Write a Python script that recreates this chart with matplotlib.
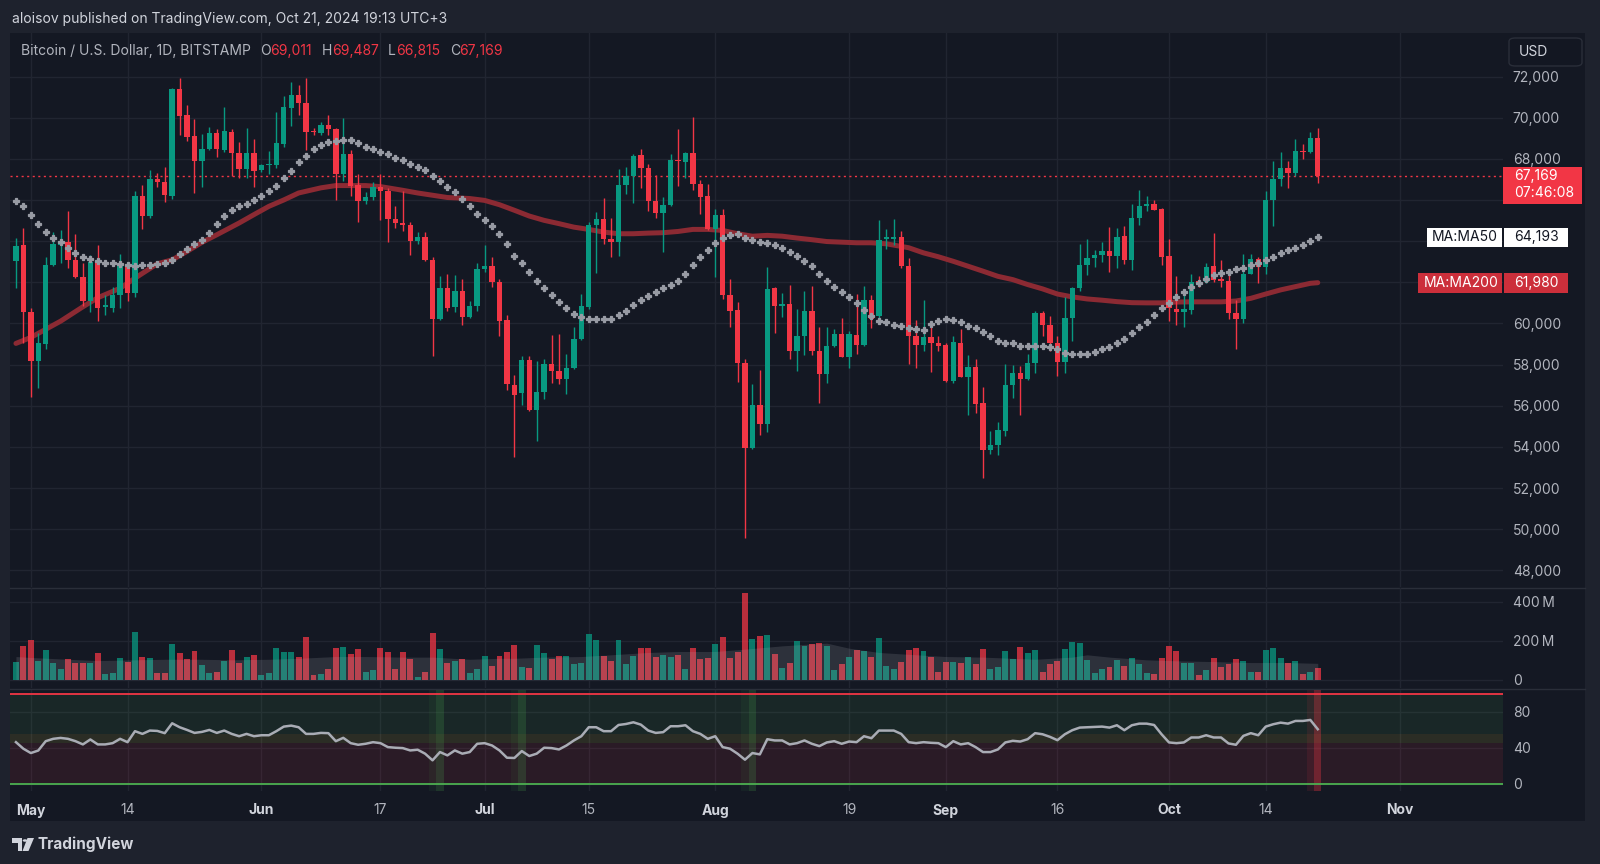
import matplotlib
matplotlib.use("Agg")
import matplotlib.pyplot as plt
from matplotlib.patches import Rectangle, FancyBboxPatch, Polygon, Circle
import numpy as np
import pandas as pd

plt.rcParams['font.family'] = ['Inter', 'DejaVu Sans']

W, H = 1600, 864
BG_OUT = '#1e222d'
BG = '#141823'
GRID = '#212531'
TXT = '#b2b5be'
TXT_HI = '#d1d4dc'
UP = '#089981'
DOWN = '#f23645'

start = pd.Timestamp('2024-04-29')
dates = pd.date_range(start, '2024-10-21', freq='D')

# daily OHLC
opens = [63040, 63790, 60540, 58180, 58990, 62830, 63820, 63950, 63090, 62240,
         61110, 63040, 60810, 60730, 61380, 62900, 61500, 66180, 65200, 67020,
         66860, 66180, 71380, 70110, 69110, 67890, 68490, 69240, 68420, 69300,
         68290, 67510, 68260, 67450, 67700, 67680, 68730, 70490, 71090, 70730,
         69350, 69240, 69630, 69460, 67240, 68210, 66750, 65940, 66150, 66620,
         66460, 65070, 64880, 64800, 64030, 64200, 63090, 60200, 61740, 60780,
         61590, 60290, 60860, 62650, 62810, 62030, 60160, 57010, 56600, 58230,
         55790, 56670, 58020, 57690, 57290, 57850, 59240, 60780, 64760, 65090,
         64110, 63950, 66720, 67170, 68180, 67560, 65940, 65370, 65770, 67950,
         67850, 68260, 66800, 66180, 64600, 65290, 61380, 60650, 58100, 53950,
         56020, 55090, 61710, 60830, 60940, 58670, 59370, 60620, 58670, 57530,
         58880, 59480, 58390, 59430, 58960, 61160, 60340, 64080, 64110, 64210,
         62780, 59370, 58960, 59320, 59070, 58930, 57200, 59070, 57420, 57900,
         56110, 53870, 54080, 54780, 57010, 57580, 57290, 58070, 60500, 59940,
         59070, 58150, 60260, 61720, 62860, 63170, 63330, 63500, 63290, 64230,
         63060, 65120, 65720, 65820, 65560, 63290, 60680, 60570, 60650, 62050,
         62000, 62800, 62150, 62070, 60520, 60210, 62410, 63120, 62760, 66020,
         67020, 67560, 67320, 68370, 68330, 69011]
highs = [64150, 64630, 60730, 59550, 63250, 64420, 64550, 65450, 64360, 62930,
         63330, 63820, 61380, 61790, 63380, 63010, 66420, 66750, 67450, 67320,
         67610, 71460, 71950, 70620, 69950, 69190, 69550, 69460, 70540, 69460,
         68810, 69480, 68980, 67770, 68370, 70280, 71060, 71740, 71590, 71920,
         69510, 69810, 70110, 69510, 70000, 68420, 67270, 66370, 66880, 67240,
         66590, 65690, 66420, 64910, 64420, 64420, 63250, 62310, 62410, 62330,
         62160, 61110, 62940, 63790, 63220, 62160, 60410, 57480, 58420, 58420,
         58180, 58260, 59430, 59480, 58500, 59840, 61430, 64930, 65420, 66110,
         65120, 67500, 67610, 68240, 68500, 67770, 67200, 66150, 68210, 69430,
         68320, 70050, 66990, 66800, 65580, 65550, 62160, 61060, 58260, 57040,
         57740, 62730, 61750, 61460, 61870, 60700, 61590, 61810, 59840, 59810,
         59720, 60260, 59610, 61430, 61840, 61380, 65010, 64600, 65090, 64490,
         63190, 60150, 61160, 59850, 59400, 59040, 59370, 59740, 58470, 58260,
         56930, 54780, 55220, 58020, 57980, 57940, 58520, 60620, 60590, 60340,
         59370, 61290, 61770, 63840, 64080, 63550, 63950, 64680, 64630, 64750,
         65820, 66470, 66210, 66020, 65600, 64100, 62310, 61630, 62410, 62310,
         62960, 64390, 63090, 62550, 61140, 63370, 63370, 63250, 66460, 67890,
         68340, 67890, 68940, 68700, 69320, 69487]
lows = [61710, 59030, 56420, 56880, 58780, 62810, 62930, 62680, 62200, 60850,
        60570, 60130, 60410, 60570, 60730, 61110, 61270, 64590, 65120, 66630,
        65890, 66050, 69140, 68860, 66340, 66620, 68440, 68100, 68330, 67150,
        67070, 67070, 66620, 67350, 67270, 67560, 68590, 69590, 70110, 68420,
        69140, 69140, 69140, 65980, 66910, 66180, 64910, 65820, 65980, 65010,
        63980, 64630, 64470, 63330, 63870, 63050, 58410, 60160, 60620, 60540,
        59920, 60250, 60620, 62490, 61760, 59370, 56760, 53510, 56020, 55740,
        54280, 56310, 57120, 57040, 56550, 57800, 59200, 60700, 62460, 63870,
        63220, 63300, 66310, 65850, 66590, 65450, 65120, 63460, 65700, 66670,
        67070, 66470, 65330, 64520, 62240, 61190, 59840, 57150, 49560, 53900,
        54600, 54720, 59560, 60290, 58290, 57690, 58460, 58460, 56110, 57090,
        58850, 58350, 57850, 58500, 58880, 59760, 60240, 63630, 63790, 62700,
        58030, 57820, 58680, 57660, 58680, 57170, 57090, 57400, 55550, 55630,
        52490, 53680, 53590, 54520, 56360, 55550, 57250, 57610, 59400, 58680,
        57450, 57580, 59160, 61590, 62330, 62750, 62980, 62520, 62680, 62890,
        62600, 64800, 65450, 65500, 62850, 60110, 59920, 59810, 60460, 61790,
        61950, 62030, 61790, 60240, 58780, 60000, 62380, 61980, 62410, 64750,
        66700, 66590, 67150, 67970, 68300, 66815]
closes = [63770, 60570, 58180, 59030, 62850, 63850, 64020, 63090, 62240, 61110,
          63010, 60730, 60910, 61380, 62900, 61500, 66180, 65200, 67020, 66860,
          66240, 71380, 70080, 69070, 67890, 68490, 69240, 68460, 69350, 68260,
          67510, 68290, 67400, 67680, 67760, 68780, 70540, 71090, 70730, 69300,
          69300, 69630, 69460, 67240, 68210, 66700, 65940, 66150, 66620, 66420,
          65070, 64880, 64800, 64030, 64180, 63090, 60200, 61710, 60730, 61590,
          60290, 60860, 62650, 62810, 62030, 60130, 57040, 56500, 58230, 55790,
          56670, 58020, 57690, 57290, 57850, 59240, 60830, 64760, 65090, 64080,
          63950, 66720, 67170, 68150, 67560, 65940, 65370, 65770, 67940, 67900,
          68290, 66800, 66150, 64600, 65290, 61380, 60620, 58100, 53950, 56020,
          55090, 61680, 60830, 60940, 58670, 59370, 60620, 58670, 57530, 58880,
          59480, 58390, 59480, 58960, 61160, 60240, 64070, 64190, 64210, 62780,
          59370, 58960, 59330, 59040, 58910, 57200, 59090, 57420, 57900, 56080,
          53870, 54080, 54810, 57010, 57580, 57290, 58070, 60500, 59940, 59070,
          58150, 60260, 61720, 62860, 63170, 63330, 63500, 63290, 64200, 63090,
          65120, 65720, 65820, 65530, 63250, 60730, 60570, 60680, 62000, 62000,
          62760, 62110, 62070, 60490, 60210, 62410, 63120, 62760, 66020, 67020,
          67560, 67320, 68370, 68330, 68990, 67169]

# MA50 (one cross per day)
ma50 = [65935, 65690, 65285, 64846, 64423, 64146, 63935, 63659, 63447, 63252,
        63138, 63041, 62960, 62927, 62895, 62846, 62797, 62846, 62846, 62895,
        62927, 63089, 63366, 63610, 63854, 64065, 64390, 64830, 65236, 65496,
        65691, 65821, 66016, 66211, 66455, 66699, 67073, 67431, 67854, 68130,
        68455, 68650, 68813, 68862, 68894, 68894, 68780, 68585, 68455, 68325,
        68211, 68016, 67935, 67756, 67610, 67480, 67154, 66911, 66618, 66390,
        66065, 65707, 65333, 65008, 64715, 64358, 63837, 63301, 62927, 62488,
        62081, 61724, 61382, 61057, 60732, 60455, 60293, 60211, 60211, 60211,
        60211, 60407, 60618, 60894, 61155, 61350, 61545, 61707, 61870, 62081,
        62407, 62846, 63252, 63545, 63919, 64146, 64276, 64358, 64146, 64033,
        63951, 63919, 63821, 63659, 63463, 63301, 63057, 62780, 62407, 62081,
        61756, 61512, 61268, 60992, 60667, 60374, 60130, 60049, 59935, 59854,
        59772, 59724, 59691, 59984, 60130, 60211, 60179, 60049, 59886, 59772,
        59561, 59366, 59155, 59073, 59041, 58927, 58911, 58911, 58911, 58878,
        58748, 58585, 58520, 58520, 58520, 58602, 58748, 58862, 59057, 59236,
        59512, 59805, 60081, 60407, 60732, 60976, 61268, 61545, 61789, 61951,
        62146, 62358, 62472, 62520, 62650, 62716, 62846, 62960, 63089, 63252,
        63415, 63545, 63659, 63821, 63984, 64193]

# MA200 sampled every couple of days
ma200_day = [0, 2, 6, 9, 11, 14, 16, 19, 21, 23, 25, 27, 30, 32, 34, 36, 38, 41,
             43, 45, 47, 49, 52, 54, 56, 58, 61, 63, 65, 67, 69, 71, 73, 75, 77,
             79, 81, 83, 85, 87, 89, 91, 93, 95, 97, 99, 101, 103, 105, 107, 109,
             111, 113, 115, 117, 120, 122, 124, 126, 128, 130, 132, 134, 136,
             138, 140, 142, 144, 146, 148, 150, 152, 154, 156, 158, 160, 162,
             164, 166, 168, 170, 172, 174, 175]
ma200_val = [59030, 59320, 60110, 60810, 61250, 61710, 62200, 62900, 63090,
             63500, 63940, 64310, 64880, 65290, 65690, 66000, 66340, 66590,
             66700, 66700, 66700, 66650, 66470, 66340, 66230, 66120, 66070,
             65980, 65770, 65500, 65220, 65010, 64850, 64680, 64570, 64440,
             64360, 64360, 64390, 64410, 64470, 64570, 64570, 64520, 64360,
             64240, 64280, 64240, 64150, 64070, 63980, 63950, 63920, 63920,
             63870, 63680, 63430, 63240, 63020, 62780, 62540, 62290, 62130,
             61890, 61680, 61430, 61290, 61190, 61130, 61060, 61010, 61000,
             61000, 61040, 61050, 61050, 61050, 61090, 61220, 61430, 61630,
             61790, 61950, 61980]

# volume in millions USD
volume = [93, 171, 205, 97, 153, 88, 57, 105, 84, 88, 84, 136, 29, 36, 110, 93,
          243, 116, 110, 33, 33, 183, 136, 105, 145, 76, 33, 38, 97, 153, 84,
          116, 128, 22, 36, 162, 143, 143, 119, 219, 26, 29, 55, 164, 167, 133,
          157, 41, 50, 162, 143, 57, 143, 105, 16, 40, 240, 160, 84, 98, 105,
          33, 57, 122, 71, 122, 140, 179, 67, 62, 179, 136, 105, 122, 122, 81,
          88, 236, 205, 122, 98, 205, 79, 122, 162, 162, 119, 128, 119, 128, 57,
          162, 105, 109, 184, 219, 110, 140, 447, 210, 226, 228, 133, 60, 88,
          200, 174, 184, 188, 171, 50, 79, 117, 153, 148, 116, 215, 71, 57, 91,
          153, 164, 148, 117, 41, 93, 93, 84, 116, 81, 160, 53, 64, 148, 105,
          167, 136, 153, 41, 79, 97, 157, 193, 190, 102, 34, 57, 67, 102, 71,
          110, 81, 33, 29, 110, 171, 148, 84, 84, 24, 50, 110, 66, 81, 105, 97,
          40, 40, 153, 162, 114, 84, 97, 28, 40, 60]
vol_ma_day = [0, 2, 7, 11, 16, 20, 25, 29, 34, 38, 43, 47, 52, 56, 61, 65, 67,
              71, 76, 80, 85, 89, 94, 98, 103, 107, 109, 112, 116, 121, 125,
              130, 137, 142, 144, 147, 152, 156, 161, 166, 171, 175]
vol_ma_val = [119, 114, 105, 98, 102, 105, 105, 102, 105, 110, 119, 119, 116,
              116, 105, 110, 110, 116, 119, 128, 140, 145, 145, 157, 174, 184,
              188, 162, 140, 128, 119, 116, 105, 116, 128, 116, 102, 97, 93, 88,
              88, 84]

rsi = [46.3, 39, 34.2, 37, 47.4, 50, 51, 50, 47.4, 43.8, 49.3, 43.8, 43.8, 45.2,
       50, 46.3, 58.5, 55.5, 59.2, 58.8, 56.3, 67.3, 62.9, 59.9, 56.6, 57.7,
       59.9, 56.6, 59.2, 55.5, 52.9, 55.5, 52.9, 54, 54, 58.5, 63.6, 64.7, 62.9,
       55.5, 55.5, 56.6, 56.3, 47.4, 51.1, 45.2, 43.4, 44.5, 46.3, 45.2, 40.8,
       40.1, 39.7, 37.1, 37.9, 33.5, 26.1, 35.3, 31.6, 37.1, 33.5, 35.3, 44.5,
       45.2, 42.6, 37.1, 29, 28.7, 36.4, 30.9, 33.5, 40.1, 39.7, 38.2, 42.6,
       48.2, 52.9, 62.9, 62.9, 58.5, 58.5, 65.4, 66.5, 68.4, 65.8, 59.2, 56.6,
       57.4, 64, 64, 65.1, 58.5, 55.5, 50, 52.9, 40.8, 39, 33.5, 26.8, 34.2,
       32.7, 49.6, 48.2, 48.2, 43.8, 45.2, 48.2, 44.5, 41.9, 46, 47.4, 44.5, 47,
       46.3, 52.9, 50.7, 59.2, 59.2, 59.2, 55.5, 46.3, 45.2, 46.3, 45.6, 45.2,
       40.8, 47.4, 43.8, 45.2, 40.8, 35.3, 35.3, 38.2, 46, 47.8, 47, 49.6, 56.3,
       55.1, 52.2, 48.5, 55.1, 59.6, 62.5, 62.9, 63.2, 63.6, 62.5, 65.1, 59.6,
       65.1, 66.9, 66.9, 65.4, 55.1, 46, 45.2, 46, 51.5, 51.5, 54, 51.5, 51.5,
       44.9, 43.4, 53.3, 56.3, 54, 63.6, 66.2, 68, 66.9, 69.9, 69.9, 71, 60.7]
rsi_signal_up = [57, 68, 99]
rsi_signal_down = [175]

tick_dates = ['2024-05-01', '2024-05-14', '2024-06-01', '2024-06-17', '2024-07-01',
              '2024-07-15', '2024-08-01', '2024-08-19', '2024-09-01', '2024-09-16',
              '2024-10-01', '2024-10-14', '2024-11-01']
tick_labels = ['May', '14', 'Jun', '17', 'Jul', '15', 'Aug', '19', 'Sep', '16',
               'Oct', '14', 'Nov']

x = np.arange(len(dates))
o = np.array(opens, float)
h = np.array(highs, float)
l = np.array(lows, float)
c = np.array(closes, float)
tick_x = [(pd.Timestamp(d) - start).days for d in tick_dates]
XLIM = (-0.8, 199.9)


def frac(x0, y0, x1, y1):
    return [x0 / W, 1 - y1 / H, (x1 - x0) / W, (y1 - y0) / H]


def fy(y):
    return 1 - y / H


fig = plt.figure(figsize=(W / 100, H / 100), dpi=100, facecolor=BG_OUT)
fig.add_artist(Rectangle((10 / W, fy(821)), 1575 / W, 788 / H, transform=fig.transFigure,
                         facecolor=BG, edgecolor='none', zorder=-10))
for yy in (587.5, 689):
    fig.add_artist(plt.Line2D([10 / W, 1585 / W], [fy(yy), fy(yy)], color='#2a2e39',
                              lw=1, transform=fig.transFigure, zorder=-5))


def style(ax):
    ax.set_facecolor('none')
    for s in ax.spines.values():
        s.set_visible(False)
    ax.set_xlim(*XLIM)
    ax.set_xticks(tick_x)
    ax.yaxis.tick_right()
    ax.tick_params(axis='both', length=0, labelcolor=TXT, labelsize=10)
    ax.tick_params(axis='y', pad=7)
    ax.tick_params(axis='x', labelbottom=False)
    ax.grid(True, color=GRID, lw=1, zorder=0)
    ax.set_axisbelow(True)


# ---- price pane
ax_p = fig.add_axes(frac(10, 33, 1503, 587))
style(ax_p)
ax_p.set_ylim(47193, 74114)
pticks = list(range(48000, 72001, 2000))
# these levels sit under the price / MA tags, so their labels stay blank
hidden = (62000, 64000, 66000)
ax_p.set_yticks(pticks, ['' if v in hidden else f'{v:,}' for v in pticks])

cols = np.where(c >= o, UP, DOWN)
ax_p.plot(ma200_day, ma200_val, color='#8c2a33', lw=3.6, solid_capstyle='round', zorder=2)
ax_p.axhline(closes[-1], color=DOWN, lw=1, ls=(0, (1.5, 2.5)), zorder=1)
ax_p.vlines(x, l, h, colors=cols, lw=1, zorder=3)
ax_p.bar(x, np.maximum(np.abs(c - o), 40), bottom=np.minimum(o, c), width=0.72,
         color=cols, lw=0, zorder=4)
ax_p.plot(x, ma50, ls='none', marker='P', ms=4.6, mew=0.9, mec='#989ba4',
          color='#989ba4', zorder=5)

# ---- volume pane
ax_v = fig.add_axes(frac(10, 588, 1503, 688))
style(ax_v)
ax_v.set_ylim(-43e6, 472e6)
ax_v.set_yticks([0, 200e6, 400e6], ['0', '200\u2009M', '400\u2009M'])
vol = np.array(volume) * 1e6
ax_v.bar(x, vol, width=0.8, color=cols, alpha=0.75, lw=0, zorder=2)
ax_v.fill_between(vol_ma_day, 0, np.array(vol_ma_val) * 1e6, color='#b2b5be',
                  alpha=0.16, lw=0, zorder=3)

# ---- RSI pane
ax_r = fig.add_axes(frac(10, 690, 1503, 791))
style(ax_r)
ax_r.set_ylim(-8, 104.3)
ax_r.set_yticks([0, 40, 80], ['0', '40', '80'])
ax_r.axhspan(55, 100, color='#4caf50', alpha=0.1, lw=0, zorder=1)
ax_r.axhspan(45, 55, color='#ffeb3b', alpha=0.1, lw=0, zorder=1)
ax_r.axhspan(0, 45, color='#f23645', alpha=0.1, lw=0, zorder=1)
for d in rsi_signal_up:
    ax_r.axvspan(d - 1.5, d - 0.5, color='#4caf50', alpha=0.07, lw=0, zorder=1.5)
    ax_r.axvspan(d - 0.5, d + 0.5, color='#4caf50', alpha=0.2, lw=0, zorder=1.5)
for d in rsi_signal_down:
    ax_r.axvspan(d - 1.5, d - 0.5, color='#f23645', alpha=0.1, lw=0, zorder=1.5)
    ax_r.axvspan(d - 0.5, d + 0.5, color='#f23645', alpha=0.35, lw=0, zorder=1.5)
ax_r.axhline(100, color='#f23645', lw=1.3, zorder=2)
ax_r.axhline(0, color='#4caf50', lw=1.3, zorder=2)
ax_r.plot(x, rsi, color='#a9acb5', lw=1.8, zorder=4)
ax_r.tick_params(axis='x', labelbottom=True, pad=9)
ax_r.set_xticks(tick_x, tick_labels)
for lab in ax_r.get_xticklabels():
    if not lab.get_text().isdigit():
        lab.set_fontweight('bold')
        lab.set_color(TXT_HI)

# ---- texts around the chart
fig.text(12 / W, fy(19), 'aloisov published on TradingView.com, Oct 21, 2024 19:13 UTC+3',
         color=TXT_HI, fontsize=10, va='center')
fig.text(21.4 / W, fy(50.7), 'Bitcoin / U.S. Dollar, 1D, BITSTAMP', color=TXT,
         fontsize=10, va='center')
for xp, s, col in [(260, 'O', TXT), (270, '69,011', DOWN), (322, 'H', TXT),
                   (332, '69,487', DOWN), (388, 'L', TXT), (396, '66,815', DOWN),
                   (450, 'C', TXT), (459, '67,169', DOWN)]:
    fig.text(xp / W, fy(50.7), s, color=col, fontsize=10, va='center')


def box(x0, y0, x1, y1, color):
    fig.add_artist(Rectangle((x0 / W, fy(y1)), (x1 - x0) / W, (y1 - y0) / H,
                             transform=fig.transFigure, facecolor=color,
                             edgecolor='none', zorder=4))


def price_y(ax, v):
    return H - ax.transData.transform((0, v))[1]


py = price_y(ax_p, closes[-1])
box(1503, py - 9, 1582, py + 28, DOWN)
fig.text(1514 / W, fy(py), f'{closes[-1]:,}', color='white', fontsize=10, va='center', zorder=5)
fig.text(1514 / W, fy(py + 17.5), '07:46:08', color='white', fontsize=10, va='center', zorder=5)

py = price_y(ax_p, ma50[-1])
box(1427, py - 9.5, 1502, py + 10, 'white')
box(1504, py - 9.5, 1568, py + 10, 'white')
fig.text(1432 / W, fy(py), 'MA:MA50', color='#131722', fontsize=10, va='center', zorder=5)
fig.text(1514 / W, fy(py), f'{ma50[-1]:,}', color='#131722', fontsize=10, va='center', zorder=5)

py = price_y(ax_p, ma200_val[-1])
box(1418, py - 9.5, 1502, py + 10, '#cc2f3b')
box(1504, py - 9.5, 1568, py + 10, '#cc2f3b')
fig.text(1424 / W, fy(py), 'MA:MA200', color='white', fontsize=10, va='center', zorder=5)
fig.text(1514 / W, fy(py), f'{ma200_val[-1]:,}', color='white', fontsize=10, va='center', zorder=5)

fig.add_artist(FancyBboxPatch((1509 / W, fy(66)), 73 / W, 28 / H,
                              boxstyle='round,pad=0,rounding_size=0.004',
                              transform=fig.transFigure, facecolor='#131722',
                              edgecolor='#2a2e39', lw=1, zorder=4))
fig.text(1519 / W, fy(51.5), 'USD', color=TXT_HI, fontsize=10, va='center', zorder=5)

# TradingView logo + wordmark
logo = '#d1d4dc'
for pts in ([(12, 838), (22, 838), (22, 851), (17.5, 851), (17.5, 842.5), (12, 842.5)],
            [(27.5, 838), (34, 838), (28.5, 851), (22.5, 851)]):
    fig.add_artist(Polygon([(px / W, fy(q)) for px, q in pts], closed=True,
                           transform=fig.transFigure, facecolor=logo, edgecolor='none'))
fig.add_artist(Circle((25 / W, fy(840.5)), 2.3 / W, transform=fig.transFigure,
                      facecolor=logo, edgecolor='none'))
fig.text(38 / W, fy(844), 'TradingView', color=logo, fontsize=11, fontweight='bold',
         va='center')

fig.savefig('out.png', dpi=100, facecolor=BG_OUT)
